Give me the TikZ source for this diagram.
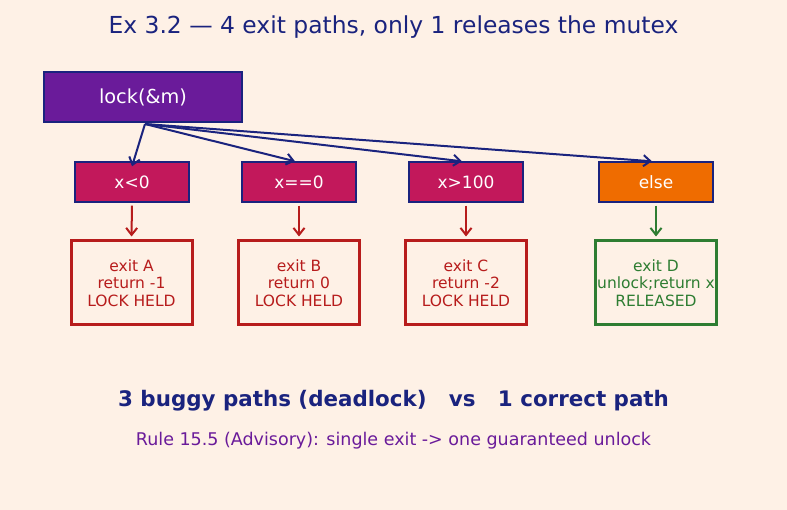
\documentclass[tikz,border=0pt]{standalone}
\usepackage{fontspec}
\setmainfont{DejaVu Sans}
\usetikzlibrary{arrows.meta}
\definecolor{bgcol}{HTML}{FEF1E6}
\definecolor{navy}{HTML}{1A237E}
\definecolor{lockcol}{HTML}{6A1B9A}
\definecolor{condcol}{HTML}{C2185B}
\definecolor{elsecol}{HTML}{EF6C00}
\definecolor{bugcol}{HTML}{B71C1C}
\definecolor{okcol}{HTML}{2E7D32}

\begin{document}
\begin{tikzpicture}[
    x=1pt, y=-1pt,
    lockbox/.style={draw=navy, fill=lockcol, line width=1.4pt, minimum width=198pt,
                    minimum height=50pt, text=white, font=\fontsize{19.3}{22}\selectfont},
    condbox/.style={draw=navy, fill=condcol, line width=1.4pt, minimum width=114pt,
                    minimum height=40pt, text=white, font=\fontsize{17}{20}\selectfont},
    exitbox/.style={draw=#1, line width=3pt, minimum width=121pt, minimum height=84pt,
                    inner xsep=0pt, text=#1, align=center,
                    font=\fontsize{15.5}{17.5}\selectfont},
    flow/.style={-{Straight Barb[length=7pt, width=11pt]}, line width=2pt, color=#1},
    flow/.default=navy,
]
    \fill[bgcol] (0,0) rectangle (787,510);

    \node[text=navy, font=\fontsize{23.4}{26}\selectfont] (title) at (393.5, 27)
        {Ex 3.2 — 4 exit paths, only 1 releases the mutex};

    \node[lockbox] (lock) at (143, 97) {lock(\&m)};

    \node[condbox] (lt) at (132, 182) {x<0};
    \node[condbox] (eq) at (299, 182) {x==0};
    \node[condbox] (gt) at (466, 182) {x>100};
    \node[condbox, fill=elsecol] (els) at (656, 182) {else};

    \node[exitbox=bugcol] (exA) at (131.5, 283) {exit A\\return -1\\LOCK HELD};
    \node[exitbox=bugcol] (exB) at (299, 283) {exit B\\return 0\\LOCK HELD};
    \node[exitbox=bugcol] (exC) at (466, 283) {exit C\\return -2\\LOCK HELD};
    \node[exitbox=okcol] (exD) at (656, 283) {exit D\\unlock;return x\\RELEASED};

    \coordinate (fork) at (145, 124);
    \draw[flow] (fork) -- ([yshift=-5pt]lt.north);
    \draw[flow] (fork) -- ([xshift=-4pt]eq.north);
    \draw[flow] (fork) -- ([xshift=-4pt]gt.north);
    \draw[flow] (fork) -- ([xshift=-4pt]els.north);

    \draw[flow=bugcol, shorten <=3pt, shorten >=3pt] (lt.south) -- (exA.north);
    \draw[flow=bugcol, shorten <=3pt, shorten >=3pt] (eq.south) -- (exB.north);
    \draw[flow=bugcol, shorten <=3pt, shorten >=3pt] (gt.south) -- (exC.north);
    \draw[flow=okcol, shorten <=3pt, shorten >=3pt] (els.south) -- (exD.north);

    \node[text=navy, font=\fontsize{21.4}{24}\selectfont\bfseries] (verdict) at (393.5, 401)
        {3 buggy paths (deadlock)\ \ \ vs\ \ \ 1 correct path};
    \node[text=lockcol, font=\fontsize{17.5}{20}\selectfont] (rule) at (393.5, 441)
        {Rule 15.5 (Advisory): single exit -> one guaranteed unlock};
\end{tikzpicture}
\end{document}
